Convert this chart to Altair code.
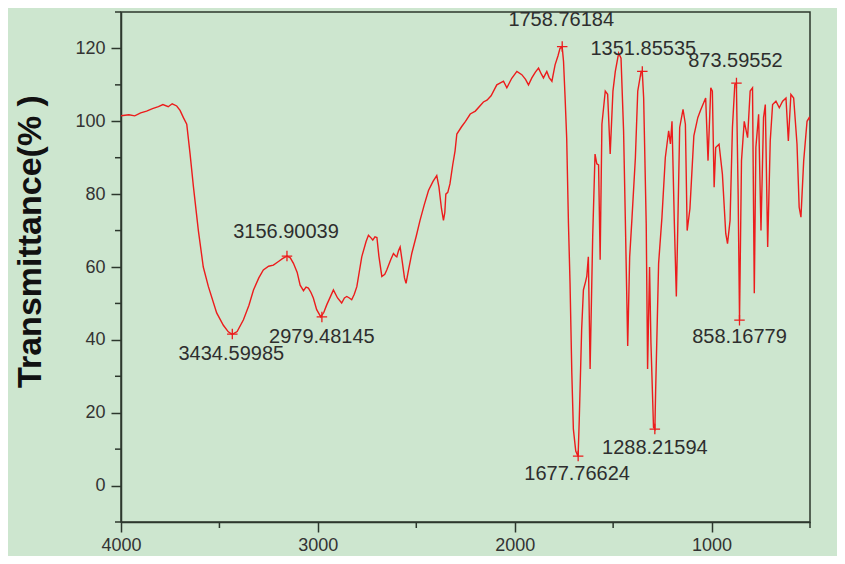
import altair as alt
import pandas as pd

# ---- spectrum ----
wavenumber = [
    4000, 3960, 3930, 3900, 3870, 3840, 3810, 3787, 3760, 3740, 3717, 3700, 3683, 3666,
    3649, 3632, 3607, 3582, 3556, 3514, 3480, 3455, 3435, 3410, 3378, 3350, 3327, 3300,
    3277, 3250, 3226, 3200, 3180, 3157, 3140, 3124, 3105, 3090, 3073, 3060, 3048, 3035,
    3023, 3006, 2985, 2970, 2955, 2935, 2921, 2900, 2879, 2865, 2853, 2840, 2828, 2815,
    2802, 2777, 2755, 2743, 2730, 2721, 2710, 2700, 2690, 2675, 2660, 2650, 2630, 2616,
    2605, 2599, 2590, 2582, 2570, 2560, 2552, 2540, 2523, 2500, 2481, 2460, 2438, 2415,
    2396, 2385, 2372, 2362, 2355, 2350, 2340, 2329, 2315, 2303, 2294, 2270, 2250, 2226,
    2200, 2159, 2141, 2120, 2091, 2075, 2057, 2040, 2015, 1989, 1964, 1945, 1930, 1913,
    1895, 1879, 1865, 1854, 1837, 1825, 1811, 1795, 1780, 1770, 1759, 1752, 1744, 1736,
    1727, 1719, 1710, 1702, 1690, 1678, 1672, 1660, 1651, 1640, 1634, 1626, 1617, 1604,
    1592, 1583, 1574, 1566, 1557, 1540, 1528, 1515, 1501, 1489, 1472, 1460, 1447, 1438,
    1426, 1416, 1404, 1387, 1375, 1358, 1352, 1345, 1332, 1325, 1315, 1308, 1295, 1288,
    1284, 1269, 1252, 1235, 1218, 1209, 1201, 1189, 1179, 1172, 1162, 1145, 1133, 1124,
    1110, 1090, 1070, 1056, 1030, 1018, 1004, 996, 987, 979, 962, 945, 928, 919,
    906, 894, 882, 874, 865, 858, 848, 834, 817, 804, 792, 783, 775, 761,
    749, 736, 727, 715, 702, 690, 673, 656, 639, 622, 610, 597, 583, 566,
    555, 546, 532, 515, 504, 500,
]
transmittance = [
    101.5, 101.8, 101.5, 102.3, 102.8, 103.5, 104.0, 104.6, 104.0, 104.8, 104.2, 103.0, 101.0, 99.2,
    91.0, 82.0, 70.0, 60.0, 54.6, 47.4, 44.0, 42.2, 41.5, 42.3, 45.5, 49.5, 53.7, 57.0,
    59.2, 60.2, 60.5, 61.5, 62.3, 63.0, 62.5, 61.0, 58.5, 55.0, 53.5, 54.5, 54.2, 53.0,
    51.5, 48.3, 46.3, 47.5, 49.6, 52.0, 53.7, 51.5, 50.1, 51.5, 51.9, 51.5, 51.0, 52.5,
    54.6, 62.8, 67.0, 68.7, 68.0, 67.4, 68.3, 68.1, 63.0, 57.4, 58.0, 59.2, 62.0, 63.7,
    63.0, 62.8, 64.5, 65.5, 61.0, 57.0, 55.5, 59.0, 63.7, 68.5, 72.8, 77.0, 81.0, 83.5,
    85.1, 82.0, 76.0, 72.8, 75.0, 80.0, 80.5, 82.8, 88.0, 91.9, 96.5, 98.5, 100.0, 102.0,
    102.8, 105.3, 105.8, 107.0, 110.0, 110.5, 111.0, 109.2, 111.8, 113.7, 112.8, 111.5, 110.0, 111.9,
    113.5, 114.6, 113.0, 111.9, 113.7, 112.0, 111.0, 115.5, 118.0, 120.0, 120.5, 116.4, 106.4, 95.5,
    71.9, 55.6, 31.0, 15.5, 9.5, 8.0, 18.3, 42.8, 53.7, 56.0, 57.4, 62.8, 32.0, 68.0,
    91.0, 88.3, 88.0, 62.0, 99.2, 108.3, 107.4, 91.0, 108.3, 113.7, 118.7, 117.3, 97.4, 72.8,
    38.3, 62.8, 73.7, 90.0, 108.3, 113.7, 113.7, 106.4, 71.9, 32.0, 60.0, 39.2, 16.0, 15.5,
    26.4, 61.0, 73.7, 90.0, 97.4, 93.8, 100.0, 71.9, 51.9, 70.0, 98.3, 103.3, 99.2, 70.0,
    76.0, 96.0, 101.0, 103.0, 106.4, 89.2, 109.2, 108.3, 81.9, 92.8, 93.7, 85.5, 69.2, 66.4,
    72.8, 98.3, 110.1, 110.5, 80.0, 45.5, 89.2, 100.0, 95.5, 108.3, 109.2, 52.8, 92.8, 101.9,
    70.0, 101.0, 104.6, 65.5, 94.6, 104.6, 105.5, 103.7, 105.5, 106.4, 94.6, 107.4, 106.4, 93.7,
    76.4, 73.7, 89.2, 100.0, 101.0, 100.5,
]

# ---- labelled peaks ----
peak_labels = ["1758.76184", "1351.85535", "873.59552", "3156.90039", "3434.59985",
               "2979.48145", "1677.76624", "1288.21594", "858.16779"]
peak_wn = [1758.76184, 1351.85535, 873.59552, 3156.90039, 3434.59985,
           2979.48145, 1677.76624, 1288.21594, 858.16779]
peak_T = [120.5, 113.7, 110.5, 63.0, 41.6, 46.3, 8.1, 15.5, 45.4]

# ---- ticks ----
x_major = [4000, 3000, 2000, 1000]
x_minor = [3500, 2500, 1500, 500]
y_major = [0, 20, 40, 60, 80, 100, 120]
y_minor = [-10, 10, 30, 50, 70, 90, 110, 130]

# label placement relative to the marker, in pixels (style)
label_up_px = [27, 22, 22, 24, -20, -20, -18, -18.5, -17]
label_right_px = [-1, 1, -1, -1, -1, 0, -1, 0, 0]

X_MIN, X_MAX = 500, 4000
Y_MIN, Y_MAX = -10, 130
W, H = 689, 510
x_per_px = (X_MAX - X_MIN) / W
y_per_px = (Y_MAX - Y_MIN) / H

spec = pd.DataFrame({"wn": wavenumber, "T": transmittance})
peaks = pd.DataFrame({
    "wn": peak_wn,
    "T": peak_T,
    "label": peak_labels,
    "lx": [w - d * x_per_px for w, d in zip(peak_wn, label_right_px)],
    "ly": [t + u * y_per_px for t, u in zip(peak_T, label_up_px)],
})
xminor_df = pd.DataFrame({"v": x_minor})
yminor_df = pd.DataFrame({"v": y_minor})

BG = "#cde6cf"
DARK = "#2c372d"
RED = "#ec1c1c"
FONT = "Liberation Sans"

xscale = alt.Scale(domain=[X_MIN, X_MAX], reverse=True, nice=False, zero=False)
yscale = alt.Scale(domain=[Y_MIN, Y_MAX], nice=False, zero=False)

xaxis = alt.Axis(
    values=x_major, format="d", title=None, grid=False,
    tickSize=10, tickColor=DARK, tickWidth=1.5, domainColor=DARK, domainWidth=1.5,
    labelFont=FONT, labelFontSize=18, labelColor="#333333", labelPadding=4,
    labelFlush=False, labelOverlap=False,
)
yaxis = alt.Axis(
    values=y_major, title="Transmittance(% )", grid=False,
    tickSize=10, tickColor=DARK, tickWidth=1.5, domainColor=DARK, domainWidth=1.5,
    labelFont=FONT, labelFontSize=18, labelColor="#333333", labelPadding=6,
    labelFlush=False, labelOverlap=False,
    titleFont=FONT, titleFontSize=34, titleFontWeight="bold", titleColor="#111111",
    titleX=-91, titleY=229, titleAlign="center", titleBaseline="middle", titleAngle=270,
)

line = alt.Chart(spec).mark_line(color=RED, strokeWidth=1.4, clip=True).encode(
    x=alt.X("wn:Q", scale=xscale, axis=xaxis),
    y=alt.Y("T:Q", scale=yscale, axis=yaxis),
    order=alt.Order("wn:Q", sort="descending"),
)

xminor = alt.Chart(xminor_df).mark_rule(color=DARK, strokeWidth=1.5).encode(
    x=alt.X("v:Q", scale=xscale), y=alt.value(H), y2=alt.value(H + 6)
)
yminor = alt.Chart(yminor_df).mark_rule(color=DARK, strokeWidth=1.5).encode(
    y=alt.Y("v:Q", scale=yscale), x=alt.value(-6), x2=alt.value(0)
)

marks = alt.Chart(peaks).mark_point(
    shape="M-1,0L1,0M0,-1L0,1", size=110, filled=False, stroke=RED, strokeWidth=1.3, opacity=1
).encode(x=alt.X("wn:Q", scale=xscale), y=alt.Y("T:Q", scale=yscale))

texts = alt.Chart(peaks).mark_text(
    font=FONT, fontSize=20, color="#2e2e2e", align="center", baseline="middle"
).encode(x=alt.X("lx:Q", scale=xscale), y=alt.Y("ly:Q", scale=yscale), text="label:N")

chart = (line + xminor + yminor + marks + texts).properties(
    width=W, height=H,
    autosize=alt.AutoSizeParams(type="none"),
    padding={"left": 113, "top": 4, "right": 27, "bottom": 34},
    background=BG,
).configure_view(fill=BG, stroke=DARK, strokeWidth=1.5)

chart.save("out.html", embed_options={"renderer": "svg", "actions": False})
